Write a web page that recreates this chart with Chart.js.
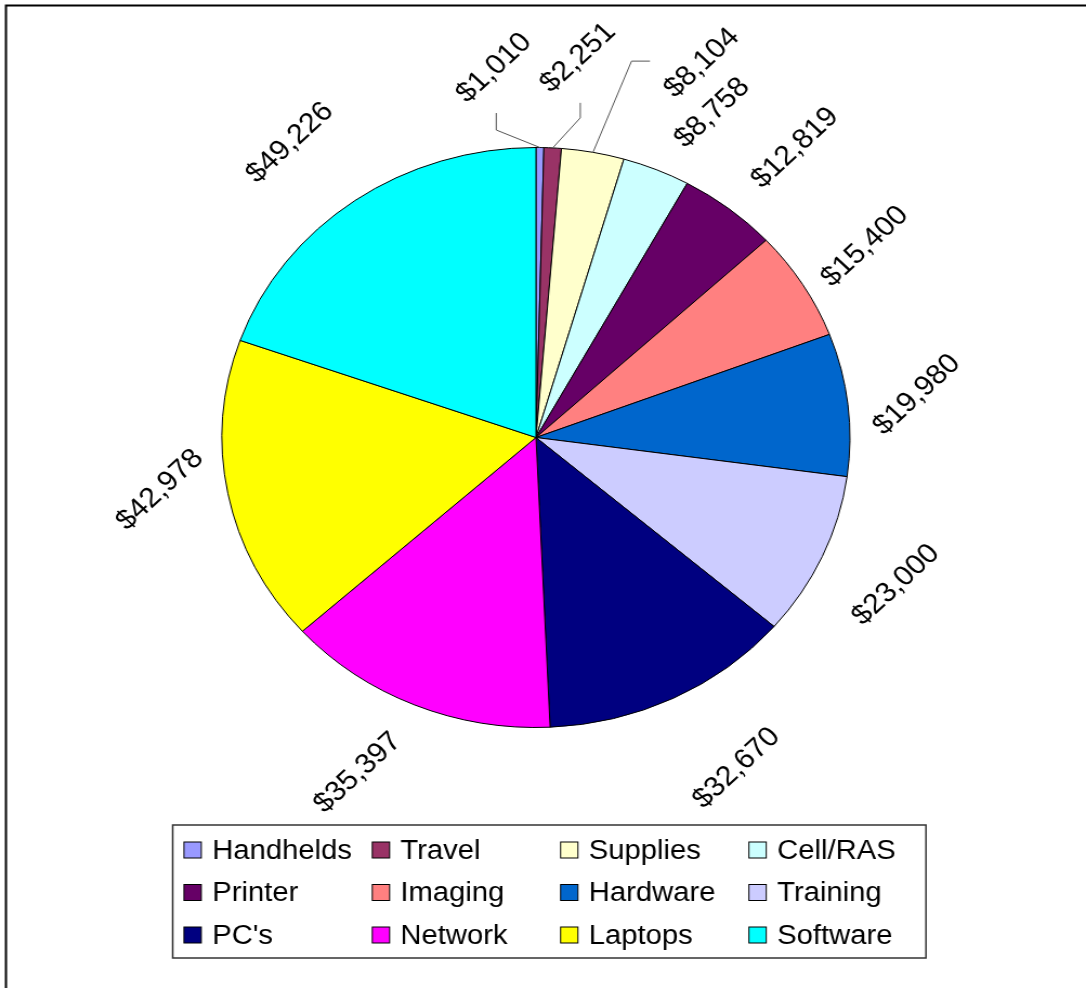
<!DOCTYPE html>
<html>
<head>
<meta charset="utf-8">
<title>Costs by category</title>
<script src="https://cdn.jsdelivr.net/npm/chart.js@4.4.1/dist/chart.umd.min.js"></script>
<style>
  html, body { margin: 0; padding: 0; background: #fff; }
  #cost-chart { display: block; }
</style>
</head>
<body>
<!-- drawn at 1003 wide and stretched to 1086 so the pie comes out oval -->
<canvas id="cost-chart" width="1003" height="988" style="width:1086px;height:988px"></canvas>
<script>
// --- Data ---
const categories = ['Handhelds', 'Travel', 'Supplies', 'Cell/RAS', 'Printer', 'Imaging',
                    'Hardware', 'Training', "PC's", 'Network', 'Laptops', 'Software'];
const amounts = [1010, 2251, 8104, 8758, 12819, 15400, 19980, 23000, 32670, 35397, 42978, 49226];
const sliceColors = ['#9999FF', '#993366', '#FFFFCC', '#CCFFFF', '#660066', '#FF8080',
                     '#0066CC', '#CCCCFF', '#000080', '#FF00FF', '#FFFF00', '#00FFFF'];

// --- Label placement ---
// angle nudge (degrees) and distance from centre as a multiple of the radius
const labelShift = [-6.7, 2.8, 11.8, 4.1, 1.6, -0.3, -0.4, -0.3, -3.3, 3.4, 2.6, -2.4];
const labelDist = [1.281, 1.316, 1.395, 1.252, 1.295, 1.237, 1.222, 1.254, 1.307, 1.288, 1.211, 1.283];
const labelAngle = -45;
// leader lines for the thin slices at the top, points relative to the label centre
const leaderLines = {
    0: [[2, 62], [2, 45]],
    1: [[2, 60], [2, 45]],
    2: [[-65, -2], [-48, -2]]
};

const FONT = '"Liberation Sans", Arial, sans-serif';

function money(v) {
    return '$' + v.toLocaleString('en-US');
}

// outer frame, only its top and left edges land inside the canvas
const framePlugin = {
    id: 'frame',
    beforeDraw(chart) {
        const { ctx, width, height } = chart;
        ctx.save();
        ctx.strokeStyle = '#000';
        ctx.lineWidth = 2;
        ctx.strokeRect(5.5, 5.5, width + 20, height + 20);
        ctx.restore();
    }
};

// rotated value labels outside each slice
const valueLabels = {
    id: 'valueLabels',
    afterDatasetsDraw(chart) {
        const { ctx } = chart;
        const meta = chart.getDatasetMeta(0);
        const values = chart.data.datasets[0].data;
        ctx.save();
        ctx.font = '28px ' + FONT;
        ctx.fillStyle = '#000';
        ctx.textAlign = 'center';
        ctx.textBaseline = 'middle';
        meta.data.forEach((arc, i) => {
            const { x, y, startAngle, endAngle, outerRadius } =
                arc.getProps(['x', 'y', 'startAngle', 'endAngle', 'outerRadius'], true);
            const mid = (startAngle + endAngle) / 2;
            const a = mid + labelShift[i] * Math.PI / 180;
            const lx = x + Math.cos(a) * outerRadius * labelDist[i];
            const ly = y + Math.sin(a) * outerRadius * labelDist[i];

            if (leaderLines[i]) {
                ctx.beginPath();
                ctx.moveTo(x + Math.cos(mid) * outerRadius, y + Math.sin(mid) * outerRadius);
                leaderLines[i].forEach(([dx, dy]) => ctx.lineTo(lx + dx, ly + dy));
                ctx.strokeStyle = '#555';
                ctx.lineWidth = 1;
                ctx.stroke();
            }

            ctx.save();
            ctx.translate(lx, ly);
            ctx.rotate(labelAngle * Math.PI / 180);
            ctx.fillText(money(values[i]), 0, 0);
            ctx.restore();
        });
        ctx.restore();
    }
};

// boxed legend, 4 equal columns x 3 rows
const boxLegend = {
    id: 'boxLegend',
    afterDraw(chart) {
        const { ctx } = chart;
        const colors = chart.data.datasets[0].backgroundColor;
        const box = { left: 159.5, top: 825, right: 855.2, bottom: 958 };
        const cols = 4;
        const colW = (box.right - box.left) / cols;
        const rowH = 42.5;

        ctx.save();
        ctx.fillStyle = '#fff';
        ctx.fillRect(box.left, box.top, box.right - box.left, box.bottom - box.top);
        ctx.strokeStyle = '#333';
        ctx.lineWidth = 1.5;
        ctx.strokeRect(box.left, box.top, box.right - box.left, box.bottom - box.top);

        ctx.font = '27px ' + FONT;
        ctx.textAlign = 'left';
        ctx.textBaseline = 'alphabetic';
        chart.data.labels.forEach((label, i) => {
            const col = i % cols;
            const row = Math.floor(i / cols);
            const sx = box.left + 10.4 + col * colW;
            const sy = 842 + row * rowH;
            ctx.fillStyle = colors[i];
            ctx.fillRect(sx, sy, 16, 16);
            ctx.strokeStyle = '#000';
            ctx.lineWidth = 1;
            ctx.strokeRect(sx, sy, 16, 16);
            ctx.fillStyle = '#000';
            ctx.fillText(label, sx + 26, sy + 16.5);
        });
        ctx.restore();
    }
};

new Chart(document.getElementById('cost-chart').getContext('2d'), {
    type: 'pie',
    data: {
        labels: categories,
        datasets: [{
            data: amounts,
            backgroundColor: sliceColors,
            borderColor: '#000',
            borderWidth: 1,
            hoverBorderWidth: 1,
            hoverOffset: 0
        }]
    },
    options: {
        responsive: false,
        devicePixelRatio: 1,
        animation: false,
        layout: {
            padding: { top: 147, bottom: 260, left: 204.5, right: 217.5 }
        },
        plugins: {
            legend: { display: false },
            tooltip: { enabled: false }
        }
    },
    plugins: [framePlugin, valueLabels, boxLegend]
});
</script>
</body>
</html>
